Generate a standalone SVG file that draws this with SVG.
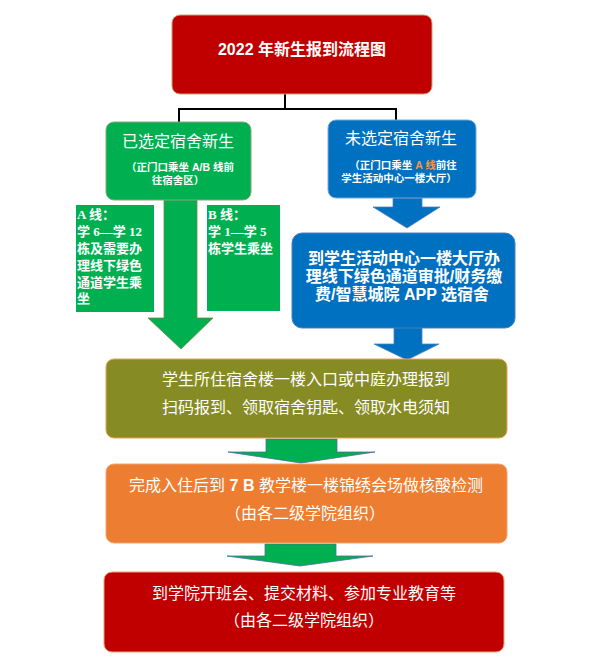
<svg xmlns="http://www.w3.org/2000/svg" width="611" height="665" viewBox="0 0 611 665">
<style>
.t{fill:#fff;font-family:"Liberation Sans","Noto Sans CJK SC",sans-serif;text-anchor:middle}
.b{font-weight:bold}
.h16{font-size:16px}
.s{font-size:10.5px;font-weight:bold}
.ser{fill:#fff;font-family:"Liberation Serif","Noto Sans CJK SC",serif;font-size:13px;font-weight:bold}
.line{fill:none;stroke:#000;stroke-width:2}
.ga{fill:#00B050;stroke:#6E8B3D;stroke-width:0.8}
.ba{fill:#0070C0;stroke:#4F81BD;stroke-width:0.8}
.ga2{fill:#00B050;stroke:#4F6F9F;stroke-width:0.8}
</style>
<rect width="611" height="665" fill="#fff"/>
<g id="connectors">
<polyline class="line" points="285,94 285,109"/>
<polyline class="line" points="179,122 179,109 396,109 396,120"/>
<polygon class="ga" points="164,199 197,199 197,318 213,318 181,349 148,318 164,318"/>
<polygon class="ba" points="393,197 422,197 422,207 440,207 407,228 373,207 393,207"/>
<polygon class="ba" points="394,327 422,327 422,344 439,344 407,360 374,344 394,344"/>
<polygon class="ga2" points="266,439 337,439 337,452 375,452 301,463 228,452 266,452"/>
<polygon class="ga2" points="265,544 336,544 336,556 373,556 300,566 227,556 265,556"/>
</g>
<g id="title">
<rect x="172" y="15" width="260" height="79" rx="8" fill="#C00000" stroke="#C9A27A" stroke-width="1"/>
<text class="t b h16" x="302" y="55">2022 年新生报到流程图</text>
</g>
<g id="selected">
<rect x="106" y="122" width="145" height="78" rx="8" fill="#00B050" stroke="#8AA67A" stroke-width="1"/>
<text class="t h16" x="178" y="147">已选定宿舍新生</text>
<text class="t s" x="180" y="171">（正门口乘坐 A/B 线前</text>
<text class="t s" x="178" y="184">往宿舍区）</text>
</g>
<g id="unselected">
<rect x="328" y="120" width="148" height="78" rx="8" fill="#0070C0" stroke="#7FA6D0" stroke-width="1"/>
<text class="t h16" x="401" y="144">未选定宿舍新生</text>
<text class="t s" x="403" y="169">（正门口乘坐 <tspan fill="#F79646">A 线</tspan>前往</text>
<text class="t s" x="399" y="182">学生活动中心一楼大厅）</text>
</g>
<g id="lineA">
<rect x="76" y="205" width="78" height="107" fill="#00B050"/>
<text class="ser" x="77" y="219">A 线：</text>
<text class="ser" x="77" y="236">学 6—学 12</text>
<text class="ser" x="77" y="253">栋及需要办</text>
<text class="ser" x="77" y="270">理线下绿色</text>
<text class="ser" x="77" y="287">通道学生乘</text>
<text class="ser" x="77" y="303">坐</text>
</g>
<g id="lineB">
<rect x="207" y="205" width="73" height="106" fill="#00B050"/>
<text class="ser" x="208" y="219">B 线：</text>
<text class="ser" x="208" y="236">学 1—学 5</text>
<text class="ser" x="208" y="253">栋学生乘坐</text>
</g>
<g id="center">
<rect x="292" y="233" width="223" height="95" rx="10" fill="#0070C0" stroke="#4F81BD" stroke-width="1"/>
<text class="t b h16" x="404" y="264">到学生活动中心一楼大厅办</text>
<text class="t b h16" x="404" y="282">理线下绿色通道审批/财务缴</text>
<text class="t b h16" x="402" y="300">费/智慧城院 APP 选宿舍</text>
</g>
<g id="dorm">
<rect x="106" y="359" width="401" height="79" rx="8" fill="#878B24" stroke="#E9A05A" stroke-width="1"/>
<text class="t h16" x="306" y="385">学生所住宿舍楼一楼入口或中庭办理报到</text>
<text class="t h16" x="306" y="413">扫码报到、领取宿舍钥匙、领取水电须知</text>
</g>
<g id="test">
<rect x="106" y="464" width="401" height="79" rx="8" fill="#ED7D31" stroke="#F2A470" stroke-width="1"/>
<text class="t h16" x="306" y="491">完成入住后到 <tspan font-weight="bold">7 B</tspan> 教学楼一楼锦绣会场做核酸检测</text>
<text class="t h16" x="305" y="519">（由各二级学院组织）</text>
</g>
<g id="college">
<rect x="104" y="572" width="400" height="80" rx="8" fill="#C00000" stroke="#E8A070" stroke-width="1"/>
<text class="t h16" x="304" y="599">到学院开班会、提交材料、参加专业教育等</text>
<text class="t h16" x="304" y="626">（由各二级学院组织）</text>
</g>
</svg>
